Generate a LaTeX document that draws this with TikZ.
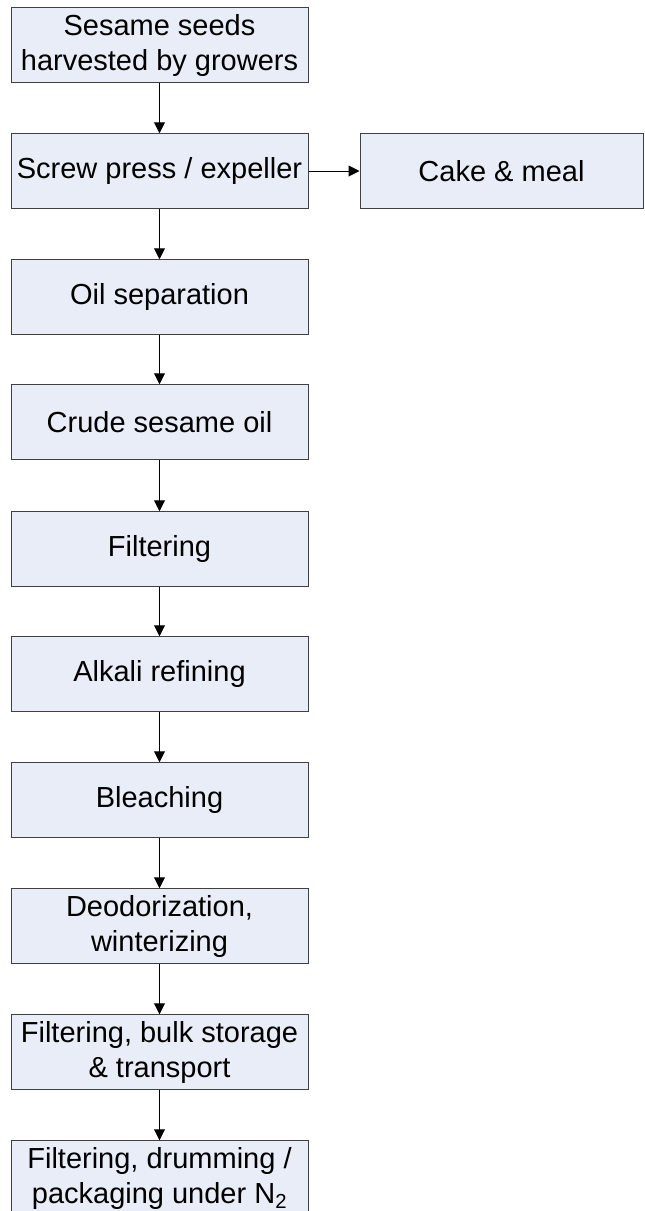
\documentclass[tikz,border=0pt]{standalone}
\usepackage{fontspec}
\setmainfont{Liberation Sans}
\usetikzlibrary{arrows.meta,positioning}
\definecolor{colorfill}{rgb}{0.91, 0.93, 0.97}
\definecolor{colorline}{rgb}{0.25, 0.25, 0.25}
\tikzstyle{stage}=[rectangle, draw=colorline, fill=colorfill, line width=1pt, minimum width=297pt, minimum height=74.5pt, inner sep=0pt, align=center, font=\fontsize{29}{35}\selectfont]
\tikzstyle{side}=[stage, minimum width=283pt]
\begin{document}
\begin{tikzpicture}[x=1pt, y=-1pt, ->, >={Triangle[length=11pt, width=11pt]}, line width=1pt]
		\useasboundingbox (0, 0) rectangle (645, 1211);
		
		\node[stage] at (159.5, 45) (seeds) {Sesame seeds\\harvested by growers};
		
		\node[stage] at (159.5, 171) (press) {Screw press / expeller};
		
		\node[side] at (501.5, 171) (cake) {Cake \& meal};
		
		\node[stage] at (159.5, 297) (sep) {Oil separation};
		
		\node[stage] at (159.5, 422) (crude) {Crude sesame oil};
		
		\node[stage] at (159.5, 549) (filt) {Filtering};
		
		\node[stage] at (159.5, 674) (alkali) {Alkali refining};
		
		\node[stage] at (159.5, 800) (bleach) {Bleaching};
		
		\node[stage] at (159.5, 926) (deodor) {Deodorization,\\winterizing};
		
		\node[stage] at (159.5, 1052) (bulk) {Filtering, bulk storage\\\& transport};
		
		\node[stage] at (159.5, 1178) (pack) {Filtering, drumming /\\packaging under N\textsubscript{2}};
		
		\path (seeds) edge (press);
		\path (press) edge (cake);
		\path (press) edge (sep);
		\path (sep) edge (crude);
		\path (crude) edge (filt);
		\path (filt) edge (alkali);
		\path (alkali) edge (bleach);
		\path (bleach) edge (deodor);
		\path (deodor) edge (bulk);
		\path (bulk) edge (pack);
		
		\end{tikzpicture}
\end{document}
